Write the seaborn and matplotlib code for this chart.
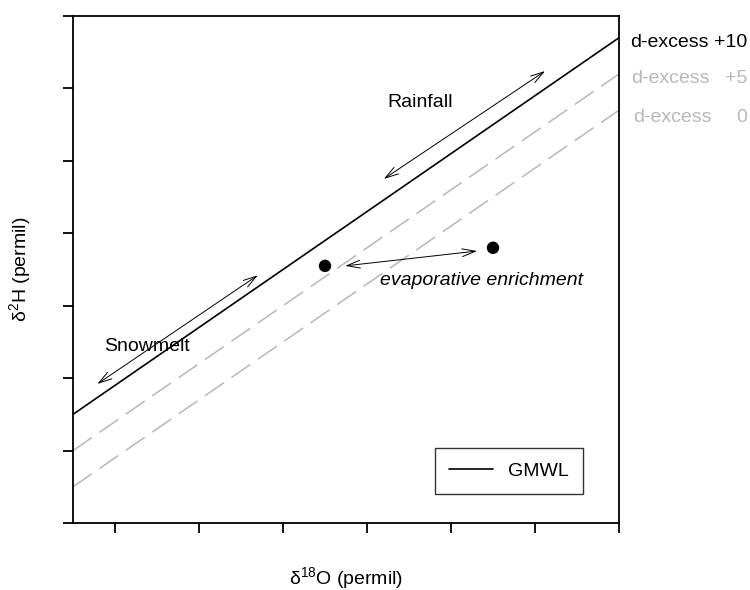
import numpy as np
import pandas as pd
import matplotlib
matplotlib.use("Agg")
import matplotlib.pyplot as plt
import seaborn as sns

# Meteoric water lines: d2H = 8 * d18O + d-excess
d_excess = [10, 5, 0]
excess_values = ["+10", "+5", "0"]
line_colors = ["black", "#b8b8b8", "#b8b8b8"]

x_range = [-10.5, -4.0]
y_range = [-89, -19]

# Sample points (d18O, d2H)
sample_d18o = [-7.5, -5.5]
sample_d2h = [-53.5, -51.0]

# Annotation arrows: (start, end) in data units
snow_arrow = [(-10.21, -69.8), (-8.30, -54.8)]
rain_arrow = [(-6.80, -41.5), (-4.88, -26.6)]
evap_arrow = [(-7.26, -53.5), (-5.69, -51.45)]

FS = 14

sns.set_style("ticks")
plt.rcParams["font.family"] = ["Liberation Sans", "DejaVu Sans"]
plt.rcParams["mathtext.fontset"] = "custom"
plt.rcParams["mathtext.rm"] = "Liberation Sans"
plt.rcParams["mathtext.it"] = "Liberation Sans:italic"
plt.rcParams["text.color"] = "black"
plt.rcParams["axes.labelcolor"] = "black"

fig = plt.figure(figsize=(7.5, 5.9), dpi=100)
ax = fig.add_axes([73 / 750, 1 - 523 / 590, 546 / 750, 507 / 590])

xs = np.array(x_range)
for d, col in zip(d_excess, line_colors):
    df = pd.DataFrame({"x": xs, "y": 8 * xs + d})
    if d == 10:
        sns.lineplot(data=df, x="x", y="y", color=col, lw=1.2, ax=ax,
                     label="GMWL")
    else:
        sns.lineplot(data=df, x="x", y="y", color=col, lw=1.1, ax=ax,
                     legend=False)
        ax.lines[-1].set_dashes((15, 6))

sns.scatterplot(x=sample_d18o, y=sample_d2h, color="black", s=80,
                edgecolor="none", ax=ax, legend=False, zorder=5)

arrow_kw = dict(arrowstyle="<->,head_length=0.95,head_width=0.28",
                color="black", lw=0.7, mutation_scale=10,
                shrinkA=0, shrinkB=0)
for (p0, p1) in [snow_arrow, rain_arrow, evap_arrow]:
    ax.annotate("", xy=p1, xytext=p0, arrowprops=arrow_kw)

ax.text(-9.62, -64.7, "Snowmelt", fontsize=FS, ha="center", va="center")
ax.text(-6.37, -30.9, "Rainfall", fontsize=FS, ha="center", va="center")
ax.text(-6.845, -55.45, "evaporative enrichment", fontsize=FS,
        style="italic", ha="left", va="center")

# Right-hand labels for the d-excess lines: word left-aligned, value right-aligned
label_drop = [0.6, 0.6, 1.0]
label_shift = [11, 12, 14]
for d, val, col, dy, sh in zip(d_excess, excess_values, line_colors,
                               label_drop, label_shift):
    y = 8 * x_range[1] + d - dy
    ax.text(x_range[1] + sh / 84, y, "d-excess", fontsize=FS, color=col,
            ha="left", va="center", clip_on=False)
    ax.text(x_range[1] + 128 / 84, y, val, fontsize=FS, color=col,
            ha="right", va="center", clip_on=False)

ax.set_xlim(*x_range)
ax.set_ylim(*y_range)
ax.set_xticks(np.arange(-10, -3.9, 1))
ax.set_yticks(np.arange(y_range[0], y_range[1] + 1, 10))
ax.set_xticklabels([])
ax.set_yticklabels([])
ax.tick_params(axis="both", direction="out", length=7, width=1.3,
               color="black")
for sp in ax.spines.values():
    sp.set_visible(True)
    sp.set_color("black")
    sp.set_linewidth(1.3)

ax.set_xlabel("δ$^{18}$O (permil)", fontsize=FS)
ax.set_ylabel("δ$^{2}$H (permil)", fontsize=FS)
ax.xaxis.label.set_va("center")
ax.yaxis.label.set_va("center")
ax.xaxis.set_label_coords(0.5, -0.108)
ax.yaxis.set_label_coords(-0.097, 0.5)

leg = ax.legend(loc="lower left", bbox_to_anchor=(0.663, 0.057),
                fontsize=FS, frameon=True, fancybox=False,
                handlelength=2.25, handletextpad=0.8, borderpad=0.73,
                borderaxespad=0)
leg.get_frame().set_edgecolor("black")
leg.get_frame().set_linewidth(1.0)
for t in leg.get_texts():
    t.set_color("black")

fig.savefig("out.png", dpi=100)
